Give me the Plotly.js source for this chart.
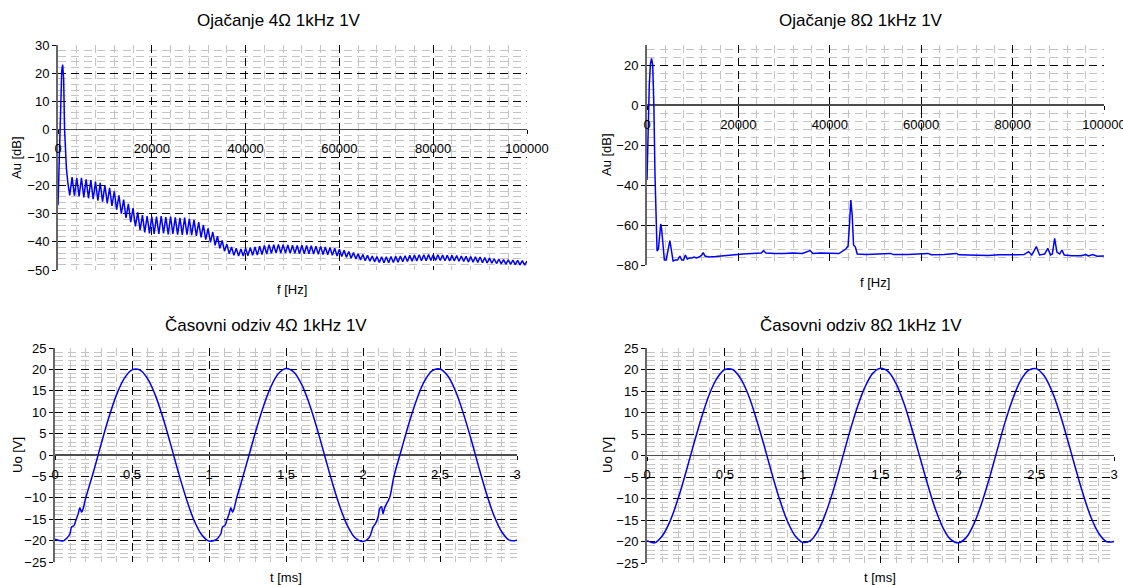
<!DOCTYPE html>
<html>
<head>
<meta charset="utf-8">
<script src="https://cdn.plot.ly/plotly-3.0.1.min.js"></script>
<style>html,body{margin:0;padding:0;background:#fff;}#chart{width:1123px;height:585px;}</style>
</head>
<body>
<div id="chart"></div>
<script>
// ---------- DATA ----------
// Ojačanje 4Ω: low-frequency part (Hz, dB)
const lowFreq4 = [0, 200, 400, 600, 800, 1000, 1200, 1400, 1600, 1800, 2100];
const lowGain4 = [-27, -12, 2, 14, 21, 23, 18, 0, -11, -14, -19];
// ripple maxima near k kHz, k = 3..100
const ripplePeaks4 = [
  -17.0,-17.3,-17.2,-17.8,-18.0,-18.6,-19.0,-19.8,
  -20.8,-22.0,-23.5,-25.0,-26.5,-28.0,-29.5,-30.5,-30.8,-31.0,
  -31.0,-30.8,-31.2,-31.0,-31.3,-31.5,-31.4,-31.8,-32.2,-33.0,
  -34.0,-35.2,-36.5,-38.0,-39.5,-40.8,-41.8,-42.3,-42.5,-42.3,
  -42.0,-41.8,-41.5,-41.3,-41.0,-41.0,-40.9,-41.0,-41.1,-41.2,
  -41.3,-41.2,-41.3,-41.4,-41.5,-41.6,-41.8,-42.0,-42.3,-42.6,
  -43.0,-43.4,-43.8,-44.2,-44.5,-44.8,-45.0,-45.2,-45.3,-45.3,
  -45.2,-45.1,-45.0,-44.9,-44.8,-44.7,-44.6,-44.6,-44.5,-44.6,
  -44.6,-44.7,-44.8,-44.8,-44.9,-45.0,-45.1,-45.2,-45.3,-45.4,
  -45.6,-45.8,-46.0,-46.1,-46.3,-46.4,-46.5,-46.6,-46.7,-46.8];
// ripple minima near k+0.5 kHz, k = 2..99
const rippleTroughs4 = [
  -23.5,-23.6,-23.8,-24.2,-24.5,-24.8,-25.3,-25.7,-26.3,
  -27.2,-28.5,-30.0,-31.5,-33.0,-34.5,-35.8,-36.6,-37.0,-37.2,
  -37.2,-37.0,-37.3,-37.2,-37.4,-37.5,-37.4,-37.6,-37.9,-38.4,
  -39.2,-40.2,-41.2,-42.3,-43.3,-44.2,-44.8,-45.0,-45.0,-44.9,
  -44.8,-44.7,-44.5,-44.3,-44.1,-44.0,-44.0,-44.0,-44.1,-44.1,
  -44.2,-44.2,-44.2,-44.3,-44.4,-44.5,-44.6,-44.8,-45.0,-45.2,
  -45.5,-45.8,-46.1,-46.4,-46.7,-46.9,-47.1,-47.3,-47.4,-47.4,
  -47.3,-47.2,-47.1,-47.0,-46.9,-46.8,-46.7,-46.7,-46.6,-46.6,
  -46.6,-46.7,-46.8,-46.8,-46.9,-47.0,-47.1,-47.2,-47.3,-47.4,
  -47.5,-47.6,-47.7,-47.8,-47.9,-48.0,-48.1,-48.2,-48.3];

// Ojačanje 8Ω (Hz, dB)
const freq8 = [0,250,500,750,1000,1250,1500,1750,2000,2200,2500,2800,3000,3200,3500,3800,4200,4700,5000,5300,5700,6200,6700,7200,7600,8000,8400,8800,9300,9800,10300,10800,11400,12000,12300,12700,13500,15000,17000,19000,21000,23000,25000,25500,26000,28000,30000,32000,34000,35700,36300,38000,40000,42000,43500,44000,44300,44600,44900,45200,45600,46000,48000,50000,53200,54000,57000,61500,62200,65000,67700,68300,71000,74600,77000,80000,82500,83500,84200,85200,85900,87000,87700,88300,88700,89200,89700,90300,90800,91300,93000,95000,96000,96600,97500,98500,100000];
const gain8 = [-37.5,-10,10,20.5,23.3,20,0,-35,-68,-73,-72,-64,-59.5,-62,-72,-77.5,-77.5,-72,-67.8,-72,-78,-77.5,-77.5,-75.5,-77.5,-77.5,-75,-77,-76.5,-76.5,-76,-76.5,-76,-75,-73.8,-75.5,-76,-75.8,-75.3,-74.8,-74.5,-74.3,-74,-72.8,-74,-74.2,-74.3,-74,-74.2,-72.8,-74.2,-74,-74.2,-74.3,-72,-70.5,-60,-47.5,-55,-70,-71,-74.5,-74.8,-74.6,-74.2,-74.8,-74.8,-74.2,-74.9,-74.8,-74.2,-74.9,-75,-75.3,-74.9,-75,-74.8,-73.3,-75,-70.8,-75,-74.5,-71.7,-75,-74.5,-66.7,-73.5,-74.5,-72.5,-75,-75.4,-75.4,-74.8,-75.5,-74.8,-75.6,-75.5];

// Časovni odziv 4Ω (ms, V)
const time4 = [0,0.05,0.08,0.097,0.108,0.123,0.136,0.151,0.162,0.172,0.182,0.2,0.25,0.3,0.35,0.4,0.45,0.5,0.55,0.6,0.65,0.7,0.75,0.8,0.85,0.9,0.95,1.0,1.05,1.06,1.077,1.088,1.103,1.116,1.131,1.142,1.152,1.162,1.18,1.2,1.25,1.3,1.35,1.4,1.45,1.5,1.55,1.6,1.65,1.7,1.75,1.8,1.85,1.9,1.95,2.0,2.04,2.066,2.083,2.098,2.109,2.12,2.13,2.141,2.174,2.2,2.25,2.3,2.35,2.4,2.45,2.5,2.55,2.6,2.65,2.7,2.75,2.8,2.85,2.9,2.95,3.0];
const volt4 = [-19.7,-20.1,-19.3,-18.4,-16.8,-16.5,-15.2,-13.7,-12.3,-13.4,-12.6,-10.0,-3.9,2.6,8.8,14.1,17.9,19.9,19.9,17.9,14.1,8.8,2.6,-3.9,-9.9,-15.0,-18.5,-20.1,-19.7,-19.3,-18.4,-16.8,-16.5,-15.2,-13.7,-12.3,-13.4,-12.6,-10.0,-7.6,-1.3,5.1,11.0,15.8,19.0,20.2,19.4,16.6,12.1,6.4,0.0,-6.4,-12.1,-16.6,-19.4,-20.2,-19.3,-16.8,-15.9,-14.5,-12.5,-12.1,-13.7,-12.3,-9.8,-5.1,1.3,7.6,13.1,17.3,19.7,20.1,18.5,15.0,9.9,3.9,-2.6,-8.8,-14.1,-17.9,-19.9,-19.9];

// Časovni odziv 8Ω (ms, V)
const time8 = [0,0.05,0.1,0.15,0.2,0.25,0.3,0.35,0.4,0.45,0.5,0.55,0.6,0.65,0.7,0.75,0.8,0.85,0.9,0.95,1.0,1.05,1.1,1.15,1.2,1.25,1.3,1.35,1.4,1.45,1.5,1.55,1.6,1.65,1.7,1.75,1.8,1.85,1.9,1.95,2.0,2.05,2.1,2.15,2.2,2.25,2.3,2.35,2.4,2.45,2.5,2.55,2.6,2.65,2.7,2.75,2.8,2.85,2.9,2.95,3.0];
const volt8 = [-19.8,-20.3,-18.6,-15.1,-10.0,-3.9,2.6,8.8,14.2,18.0,20.0,20.0,18.0,14.2,8.8,2.6,-3.9,-10.0,-15.1,-18.6,-20.2,-19.8,-17.4,-13.2,-7.7,-1.3,5.2,11.1,15.9,19.1,20.3,19.5,16.7,12.2,6.4,0.0,-6.4,-12.2,-16.7,-19.5,-20.3,-19.1,-15.9,-11.1,-5.2,1.3,7.7,13.2,17.4,19.8,20.2,18.6,15.1,10.0,3.9,-2.6,-8.8,-14.2,-18.0,-20.0,-20.0];

const titles = ['Ojačanje 4Ω 1kHz 1V', 'Ojačanje 8Ω 1kHz 1V', 'Časovni odziv 4Ω 1kHz 1V', 'Časovni odziv 8Ω 1kHz 1V'];
const xTitles = ['f [Hz]', 'f [Hz]', 't [ms]', 't [ms]'];
const yTitles = ['Au [dB]', 'Au [dB]', 'Uo [V]', 'Uo [V]'];

// ---------- BUILD 4Ω spectrum (peaks at k kHz, troughs at k+0.5 kHz) ----------
const freq4 = lowFreq4.slice();
const gain4 = lowGain4.slice();
for (let k = 2; k <= 100; k++) {
  if (k >= 3) { freq4.push(k * 1000); gain4.push(ripplePeaks4[k - 3]); }
  if (k <= 99) { freq4.push(k * 1000 + 500); gain4.push(rippleTroughs4[k - 2]); }
}

// ---------- LAYOUT ----------
const W = 1123, H = 585;
const FONT = 'Liberation Sans, Arial, sans-serif';
// plot boxes in pixels: [left, right, top, bottom]
const boxes = [[58, 527, 45, 270], [647, 1104, 45, 265], [55, 517, 348, 562], [647, 1114, 348, 563]];
const yRanges = [[-50, 30], [-80, 30], [-25, 25], [-25, 25]];
const xRanges = [[0, 100000], [0, 100000], [0, 3], [0, 3]];
const yMajor = [10, 20, 5, 5], yMinor = [2, 4, 1, 1];
const xMajor = [20000, 20000, 0.5, 0.5], xMinor = [4000, 4000, 0.1, 0.1];
const titlePos = [[279, 21], [861, 21], [266, 325], [861, 325]];
const xTitlePos = [[292, 289], [875, 282], [286, 577], [880, 577]];
const yTitlePos = [[17, 158], [607, 155], [17, 455], [607, 455]];

const DASH = '8px,5px';
const layout = {
  width: W, height: H,
  margin: {l: 0, r: 0, t: 0, b: 0},
  paper_bgcolor: '#fff', plot_bgcolor: '#fff',
  showlegend: false,
  separators: ',.',
  font: {family: FONT, size: 13, color: '#000'},
  annotations: []
};

const xs = [freq4, freq8, time4, time8];
const ys = [gain4, gain8, volt4, volt8];
const traces = [];

for (let i = 0; i < 4; i++) {
  const [l, r, t, b] = boxes[i];
  const xd = [l / W, r / W];
  const yd = [1 - b / H, 1 - t / H];
  const yr = yRanges[i];
  const zeroPos = yd[0] + (0 - yr[0]) / (yr[1] - yr[0]) * (yd[1] - yd[0]);
  const sx = i === 0 ? '' : String(i + 1);
  const xa = {
    domain: xd, range: xRanges[i], anchor: 'free', position: zeroPos,
    dtick: xMajor[i], tick0: 0,
    showgrid: true, gridcolor: '#000', griddash: DASH, gridwidth: 1,
    minor: {dtick: xMinor[i], tick0: 0, showgrid: true, gridcolor: '#c4c4c4', griddash: DASH, gridwidth: 1},
    zeroline: false, showline: false,
    ticks: 'outside', ticklen: 4, tickcolor: '#000',
    tickfont: {family: FONT, size: 13, color: '#000'},
    ticklabelstandoff: 3,
    ticklabeloverflow: 'allow',
    fixedrange: true
  };
  if (i < 2) xa.tickformat = 'd';
  const ya = {
    domain: yd, range: yr, anchor: 'x' + sx,
    dtick: yMajor[i], tick0: 0,
    showgrid: true, gridcolor: '#000', griddash: DASH, gridwidth: 1,
    minor: {dtick: yMinor[i], tick0: 0, showgrid: true, gridcolor: '#c4c4c4', griddash: DASH, gridwidth: 1},
    zeroline: true, zerolinecolor: '#4d4d4d', zerolinewidth: 1.4,
    showline: true, linecolor: '#666', linewidth: 2,
    ticks: 'outside', ticklen: 4, tickcolor: '#000',
    tickfont: {family: FONT, size: 13, color: '#000'},
    ticklabeloverflow: 'allow',
    fixedrange: true
  };
  layout['xaxis' + sx] = xa;
  layout['yaxis' + sx] = ya;
  traces.push({
    type: 'scatter', mode: 'lines', x: xs[i], y: ys[i],
    xaxis: 'x' + sx, yaxis: 'y' + sx,
    line: {color: '#0000ff', width: 1.5, shape: i >= 2 ? 'spline' : 'linear'},
    cliponaxis: true,
    hoverinfo: 'skip'
  });
  layout.annotations.push({
    text: titles[i], xref: 'paper', yref: 'paper', x: titlePos[i][0] / W, y: 1 - titlePos[i][1] / H,
    xanchor: 'center', yanchor: 'middle', showarrow: false, font: {family: FONT, size: 17, color: '#000'}
  });
  layout.annotations.push({
    text: xTitles[i], xref: 'paper', yref: 'paper', x: xTitlePos[i][0] / W, y: 1 - xTitlePos[i][1] / H,
    xanchor: 'center', yanchor: 'middle', showarrow: false, font: {family: FONT, size: 13, color: '#000'}
  });
  layout.annotations.push({
    text: yTitles[i], xref: 'paper', yref: 'paper', x: yTitlePos[i][0] / W, y: 1 - yTitlePos[i][1] / H,
    xanchor: 'center', yanchor: 'middle', textangle: -90, showarrow: false, font: {family: FONT, size: 13, color: '#000'}
  });
}

Plotly.newPlot('chart', traces, layout, {staticPlot: true, displayModeBar: false});
</script>
</body>
</html>
